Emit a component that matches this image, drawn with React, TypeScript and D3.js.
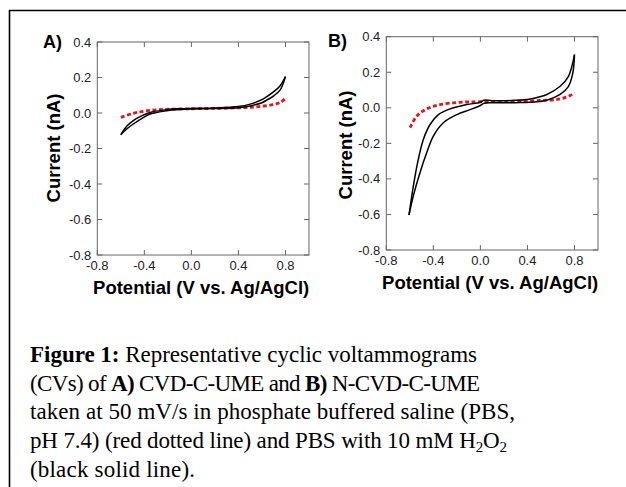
import React from "react";
import * as d3 from "d3";

// ---- data (V vs Ag/AgCl, current in nA) ----
const xTicks = [-0.8, -0.4, 0.0, 0.4, 0.8];
const yTicks = [0.4, 0.2, 0.0, -0.2, -0.4, -0.6, -0.8];

const aBlackUpper: [number, number][] = [
  [-0.6, -0.122], [-0.55, -0.075], [-0.494, -0.043], [-0.42, -0.015], [-0.351, 0.003],
  [-0.21, 0.019], [-0.1, 0.024], [0.0, 0.026], [0.2, 0.028], [0.4, 0.036], [0.5, 0.05],
  [0.6, 0.075], [0.642, 0.092], [0.7, 0.12], [0.755, 0.154], [0.8, 0.205],
];
const aBlackLower: [number, number][] = [
  [-0.6, -0.122], [-0.55, -0.09], [-0.494, -0.062], [-0.42, -0.03], [-0.351, -0.006],
  [-0.21, 0.013], [-0.1, 0.02], [0.0, 0.023], [0.2, 0.025], [0.4, 0.03], [0.5, 0.04],
  [0.6, 0.058], [0.642, 0.073], [0.7, 0.097], [0.755, 0.13], [0.8, 0.205],
];
const aRed: [number, number][] = [
  [-0.6, -0.025], [-0.5, -0.003], [-0.4, 0.01], [-0.3, 0.018], [-0.2, 0.021], [0.0, 0.024],
  [0.2, 0.026], [0.4, 0.029], [0.5, 0.032], [0.6, 0.038], [0.7, 0.048], [0.75, 0.058], [0.8, 0.082],
];

const bBlackUpper: [number, number][] = [
  [-0.607, -0.603], [-0.57, -0.44], [-0.528, -0.29], [-0.485, -0.178], [-0.428, -0.094],
  [-0.357, -0.038], [-0.258, -0.006], [-0.116, 0.018], [0.0, 0.031], [0.03, 0.043],
  [0.1, 0.04], [0.3, 0.042], [0.423, 0.05], [0.565, 0.075], [0.678, 0.121], [0.749, 0.177], [0.8, 0.299],
];
const bBlackLower: [number, number][] = [
  [-0.607, -0.603], [-0.57, -0.495], [-0.513, -0.364], [-0.456, -0.252], [-0.4, -0.159],
  [-0.315, -0.084], [-0.2, -0.038], [-0.088, -0.01], [0.0, 0.013], [0.03, 0.025], [0.1, 0.028],
  [0.3, 0.029], [0.423, 0.031], [0.565, 0.043], [0.678, 0.075], [0.749, 0.121], [0.786, 0.196], [0.8, 0.299],
];
const bRed: [number, number][] = [
  [-0.598, -0.112], [-0.541, -0.047], [-0.456, -0.006], [-0.343, 0.018], [-0.173, 0.031],
  [0.0, 0.034], [0.28, 0.037], [0.508, 0.041], [0.678, 0.05], [0.763, 0.069], [0.8, 0.087],
];

type Panel = {
  label: string; left: number; top: number; right: number; bottom: number;
  upper: [number, number][]; lower: [number, number][]; red: [number, number][];
  yTitleX: number; yTitleY: number; xTitleY: number; labelX: number; labelY: number;
};

const panels: Panel[] = [
  { label: "A)", left: 97.3, top: 42, right: 309, bottom: 255, upper: aBlackUpper, lower: aBlackLower, red: aRed,
    yTitleX: 60, yTitleY: 148, xTitleY: 294, labelX: 43, labelY: 48 },
  { label: "B)", left: 386.3, top: 36.7, right: 598, bottom: 250, upper: bBlackUpper, lower: bBlackLower, red: bRed,
    yTitleX: 352, yTitleY: 145, xTitleY: 289, labelX: 328, labelY: 47 },
];

const sans = "'Liberation Sans', Arial, sans-serif";
const serif = "'Liberation Serif', 'Times New Roman', serif";

function PanelView({ p }: { p: Panel }) {
  const x = d3.scaleLinear().domain([-0.8, 1.0]).range([p.left, p.right]);
  const y = d3.scaleLinear().domain([-0.8, 0.4]).range([p.bottom, p.top]);
  const line = d3.line<[number, number]>().x((d) => x(d[0])).y((d) => y(d[1])).curve(d3.curveCatmullRom.alpha(0.5));
  const tl = 5;
  const frame = "#666";
  const cx = (p.left + p.right) / 2;
  return (
    <g>
      <rect x={p.left} y={p.top} width={p.right - p.left} height={p.bottom - p.top} fill="none" stroke={frame} strokeWidth={1} />
      {xTicks.map((t) => (
        <g key={"x" + t}>
          <line x1={x(t)} x2={x(t)} y1={p.bottom} y2={p.bottom - tl} stroke={frame} />
          <line x1={x(t)} x2={x(t)} y1={p.top} y2={p.top + tl} stroke={frame} />
          <text x={x(t)} y={p.bottom + 14.5} textAnchor="middle" fontFamily={sans} fontSize={13} fill="#222">
            {t.toFixed(1)}
          </text>
        </g>
      ))}
      {yTicks.map((t) => (
        <g key={"y" + t}>
          <line x1={p.left} x2={p.left + tl} y1={y(t)} y2={y(t)} stroke={frame} />
          <line x1={p.right} x2={p.right - tl} y1={y(t)} y2={y(t)} stroke={frame} />
          <text x={p.left - 6} y={y(t) + 4.5} textAnchor="end" fontFamily={sans} fontSize={13} fill="#222">
            {t.toFixed(1)}
          </text>
        </g>
      ))}
      <path d={line(p.red) || ""} fill="none" stroke="#e8141b" strokeWidth={2.8} strokeDasharray="4,2.5" />
      <path d={line(p.upper) || ""} fill="none" stroke="#000" strokeWidth={1.5} />
      <path d={line(p.lower) || ""} fill="none" stroke="#000" strokeWidth={1.5} />
      <text x={p.labelX} y={p.labelY} fontFamily={sans} fontWeight="bold" fontSize={18} fill="#000">{p.label}</text>
      <text transform={`translate(${p.yTitleX},${p.yTitleY}) rotate(-90)`} textAnchor="middle" fontFamily={sans} fontWeight="bold" fontSize={18.5} fill="#000">
        Current (nA)
      </text>
      <text x={cx - 2} y={p.xTitleY} textAnchor="middle" fontFamily={sans} fontWeight="bold" fontSize={18.5} fill="#000">
        Potential (V vs. Ag/AgCl)
      </text>
    </g>
  );
}

export default function App() {
  const fs = 23;
  const base = 361.7;
  const lh = 28.8;
  return (
    <svg width={626} height={487} style={{ position: "absolute", left: 0, top: 0, background: "#fff" }}>
      <rect x={0} y={0} width={626} height={487} fill="#fff" />
      <path d="M9.5,490 L9.5,10.5 L630,10.5" fill="none" stroke="#000" strokeWidth={1.6} />
      {panels.map((p) => <PanelView key={p.label} p={p} />)}
      <g fontFamily={serif} fontSize={fs} fill="#000">
        <text x={30} y={base} textLength={447} lengthAdjust="spacing">
          <tspan fontWeight="bold">Figure 1:</tspan> Representative cyclic voltammograms
        </text>
        <text x={30} y={base + lh} textLength={450} lengthAdjust="spacing">
          (CVs) of <tspan fontWeight="bold">A)</tspan> CVD-C-UME and <tspan fontWeight="bold">B)</tspan> N-CVD-C-UME
        </text>
        <text x={30} y={base + 2 * lh} textLength={485} lengthAdjust="spacing">taken at 50 mV/s in phosphate buffered saline (PBS,</text>
        <text x={30} y={base + 3 * lh} textLength={477} lengthAdjust="spacing">
          pH 7.4) (red dotted line) and PBS with 10 mM H<tspan fontSize={15} dy={4}>2</tspan><tspan dy={-4}>O</tspan><tspan fontSize={15} dy={4}>2</tspan>
        </text>
        <text x={30} y={base + 4 * lh} textLength={165} lengthAdjust="spacing">(black solid line).</text>
      </g>
    </svg>
  );
}
